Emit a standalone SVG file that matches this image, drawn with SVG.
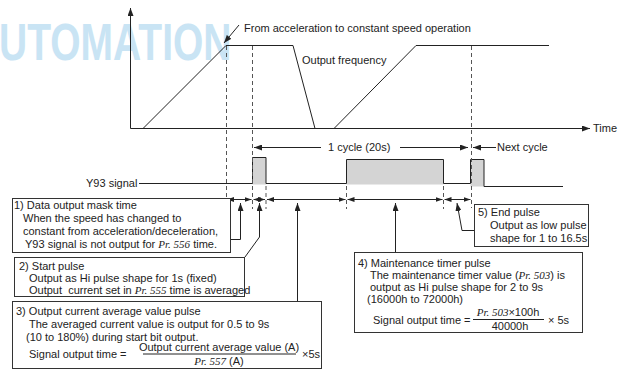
<svg xmlns="http://www.w3.org/2000/svg" width="624" height="370" viewBox="0 0 624 370">
<defs>
<marker id="ah" viewBox="0 0 8 6" refX="8" refY="3" markerWidth="8" markerHeight="6" markerUnits="userSpaceOnUse" orient="auto-start-reverse"><path d="M0,0 L8,3 L0,6 z" fill="#222"/></marker>
<marker id="as" viewBox="0 0 7 5" refX="7" refY="2.5" markerWidth="7" markerHeight="5" markerUnits="userSpaceOnUse" orient="auto-start-reverse"><path d="M0,0 L7,2.5 L0,5 z" fill="#222"/></marker>
</defs>
<style>
text{font-family:"Liberation Sans",Arial,sans-serif;font-size:11px;fill:#222}
.pr{font-family:"Liberation Serif","Times New Roman",serif;font-style:italic}
.ln{stroke:#222;stroke-width:1;fill:none}
.dash{stroke:#555;stroke-width:1;stroke-dasharray:4 3;fill:none}
.box{fill:#fff;stroke:#333;stroke-width:1}
.pulse{fill:#d4d4d4;stroke:none}
.wm{font-family:"Liberation Sans",Arial,sans-serif;font-weight:bold;font-size:39px;fill:#c9e4f4}
</style>
<g id="watermark"><text class="wm" x="0" y="0" transform="translate(-1,60) scale(1,1.32)">UTOMATION</text></g>
<g id="frequency-graph">
<line class="ln" x1="130.5" y1="128.5" x2="130.5" y2="8" marker-end="url(#ah)"/>
<line class="ln" x1="130.5" y1="128.5" x2="590" y2="128.5" marker-end="url(#ah)"/>
<polyline class="ln" points="143,128.5 226,45.5 293,45.5 315,128.5"/>
<polyline class="ln" points="334,128.5 416,45.5 549,45.5"/>
<text x="593" y="132">Time</text>
<text x="302" y="64">Output frequency</text>
<text x="244" y="32">From acceleration to constant speed operation</text>
</g>
<g id="y93-signal">
<rect class="pulse" x="252.5" y="157.5" width="13.5" height="27"/>
<rect class="pulse" x="346.5" y="159.5" width="97" height="25"/>
<rect class="pulse" x="470.5" y="159.5" width="13.5" height="27"/>
<path class="ln" d="M139,183.5 H252.5 V157.5 H266 V183.5 H346.5 V159.5 H443.5 V183.5 H470.5 V159.5 H484 V186.5 H563"/>
<text x="86" y="187">Y93 signal</text>
</g>
<g id="connectors">
<line class="dash" x1="226.5" y1="46" x2="226.5" y2="209"/>
<line class="dash" x1="252.5" y1="46" x2="252.5" y2="209"/>
<line class="dash" x1="471.5" y1="46" x2="471.5" y2="208"/>
<line class="dash" x1="266" y1="186" x2="266" y2="209"/>
<line class="dash" x1="346.5" y1="186" x2="346.5" y2="209"/>
<line class="dash" x1="443.5" y1="186" x2="443.5" y2="209"/>
<line class="ln" x1="239" y1="25" x2="224" y2="43" marker-end="url(#ah)"/>
<line class="ln" x1="321" y1="147.5" x2="254" y2="147.5" marker-end="url(#ah)"/>
<text x="328" y="151">1 cycle (20s)</text>
<line class="ln" x1="400" y1="147.5" x2="468" y2="147.5" marker-end="url(#ah)"/>
<line class="ln" x1="496" y1="147.5" x2="473" y2="147.5" marker-end="url(#ah)"/>
<text x="497" y="151">Next cycle</text>
<line class="ln" x1="227" y1="199.5" x2="251.5" y2="199.5" marker-start="url(#as)" marker-end="url(#as)"/>
<line class="ln" x1="253.5" y1="199.5" x2="265" y2="199.5" marker-start="url(#as)" marker-end="url(#as)"/>
<line class="ln" x1="267" y1="199.5" x2="345.5" y2="199.5" marker-start="url(#as)" marker-end="url(#as)"/>
<line class="ln" x1="347.5" y1="199.5" x2="442.5" y2="199.5" marker-start="url(#as)" marker-end="url(#as)"/>
<line class="ln" x1="444.5" y1="199.5" x2="470.5" y2="199.5" marker-start="url(#as)" marker-end="url(#as)"/>
<polyline class="ln" points="240.5,203 240.5,239.5 230,239.5" marker-start="url(#ah)"/>
<polyline class="ln" points="259.5,203 259.5,237 245,257" marker-start="url(#ah)"/>
<polyline class="ln" points="297.5,203 297.5,301" marker-start="url(#ah)"/>
<polyline class="ln" points="395.5,203 395.5,252" marker-start="url(#ah)"/>
<polyline class="ln" points="457,203 462,230.5 474,230.5" marker-start="url(#ah)"/>
</g>
<g id="box1">
<rect class="box" x="12.5" y="198.5" width="218" height="54"/>
<text x="14" y="209">1) Data output mask time</text>
<text x="23" y="222">When the speed has changed to</text>
<text x="23" y="235">constant from acceleration/deceleration,</text>
<text x="25" y="248">Y93 signal is not output for <tspan class="pr">Pr. 556</tspan> time.</text>
</g>
<g id="box2">
<rect class="box" x="14.5" y="257.5" width="230" height="39"/>
<text x="19" y="270">2) Start pulse</text>
<text x="29" y="282">Output as Hi pulse shape for 1s (fixed)</text>
<text x="29" y="294">Output&#160; current set in <tspan class="pr">Pr. 555</tspan> time is averaged</text>
</g>
<g id="box3">
<rect class="box" x="12.5" y="301.5" width="309" height="67"/>
<text x="16" y="315">3) Output current average value pulse</text>
<text x="29" y="328">The averaged current value is output for 0.5 to 9s</text>
<text x="26" y="341">(10 to 180%) during start bit output.</text>
<text x="29" y="358">Signal output time =</text>
<text x="219" y="351" text-anchor="middle">Output current average value (A)</text>
<line class="ln" x1="143" y1="354" x2="296" y2="354"/>
<text x="219" y="365" text-anchor="middle"><tspan class="pr">Pr. 557</tspan> (A)</text>
<text x="302" y="358">×5s</text>
</g>
<g id="box4">
<rect class="box" x="354.5" y="252.5" width="228" height="80"/>
<text x="358" y="267">4) Maintenance timer pulse</text>
<text x="370" y="279">The maintenance timer value (<tspan class="pr">Pr. 503</tspan>) is</text>
<text x="370" y="291">output as Hi pulse shape for 2 to 9s</text>
<text x="367" y="303">(16000h to 72000h)</text>
<text x="373" y="324">Signal output time =</text>
<text x="508" y="316" text-anchor="middle"><tspan class="pr">Pr. 503</tspan>×100h</text>
<line class="ln" x1="473" y1="319.5" x2="544" y2="319.5"/>
<text x="510" y="330" text-anchor="middle">40000h</text>
<text x="548" y="324">× 5s</text>
</g>
<g id="box5">
<rect class="box" x="474.5" y="204.5" width="114" height="42"/>
<text x="478" y="216">5) End pulse</text>
<text x="490" y="229">Output as low pulse</text>
<text x="490" y="242">shape for 1 to 16.5s</text>
</g>
</svg>
